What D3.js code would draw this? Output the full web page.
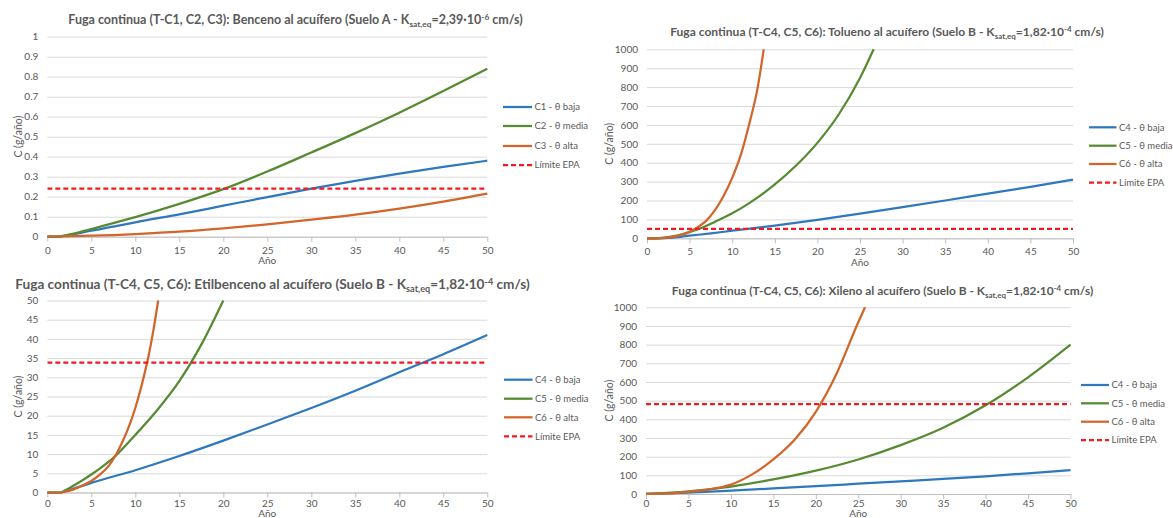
<!doctype html>
<html>
<head>
<meta charset="utf-8">
<style>
    body { margin: 0; background: #fff; }
    svg text { font-family: Lato, "Open Sans", sans-serif; fill: #595959; }
    .grid line { stroke: #d9d9d9; stroke-width: 1; }
    .xaxis path, .xaxis line { stroke: #bfbfbf; stroke-width: 1; }
    .serie { fill: none; stroke-width: 2.25; stroke-linejoin: round; }
    .epa { fill: none; stroke: #ee1c25; stroke-width: 2.25; stroke-dasharray: 5,3; }
</style>
<script src="https://d3js.org/d3.v7.min.js"></script>
</head>
<body>
<svg width="1173" height="518"></svg>
<script>
// ---- datos ----
var xTicks = [0, 5, 10, 15, 20, 25, 30, 35, 40, 45, 50];
var benTicks = [0, 0.1, 0.2, 0.3, 0.4, 0.5, 0.6, 0.7, 0.8, 0.9, 1];
var milTicks = [0, 100, 200, 300, 400, 500, 600, 700, 800, 900, 1000];
var cincuentaTicks = [0, 5, 10, 15, 20, 25, 30, 35, 40, 45, 50];

// Benceno (Suelo A)
var benYears = [0, 1, 2, 3, 5, 7.5, 10, 15, 20, 25, 30, 35, 40, 45, 50];
var benC1 = [0, 0, 0.005, 0.012, 0.03, 0.05, 0.072, 0.112, 0.155, 0.198, 0.24, 0.279, 0.315, 0.349, 0.38];
var benC2 = [0, 0, 0.006, 0.015, 0.038, 0.068, 0.098, 0.164, 0.238, 0.326, 0.421, 0.518, 0.62, 0.728, 0.84];
var benC3 = [0, 0.001, 0.002, 0.003, 0.005, 0.008, 0.013, 0.025, 0.042, 0.062, 0.085, 0.11, 0.14, 0.175, 0.215];
var benEpa = 0.24;

// Tolueno (Suelo B)
var tolYearsC4 = [0, 1, 2, 3, 5, 7.5, 10, 15, 20, 25, 30, 35, 40, 45, 50];
var tolC4 = [0, 0, 1, 4, 14, 26, 40, 67, 98, 131, 165, 200, 236, 272, 310];
var tolYearsC5 = [0, 1, 2, 3, 4, 5, 6, 8, 10, 12, 15, 17.5, 20, 22.5, 25, 26.6];
var tolC5 = [0, 0, 3, 10, 20, 33, 48, 88, 132, 186, 285, 385, 505, 655, 848, 1000];
var tolYearsC6 = [0, 1, 2, 3, 4, 5, 6, 7, 8, 9, 10, 11, 12, 13, 13.7];
var tolC6 = [0, 0, 2, 7, 18, 35, 60, 95, 150, 225, 320, 440, 605, 800, 1000];
var tolEpa = 50;

// Etilbenceno (Suelo B)
var etiYearsC4 = [0, 1, 1.5, 2, 3, 5, 10, 15, 20, 25, 30, 35, 40, 45, 50];
var etiC4 = [0, 0, 0, 0.3, 1, 2.5, 5.8, 9.5, 13.5, 17.7, 22, 26.5, 31.3, 36, 41];
var etiYearsC5 = [0, 1, 1.5, 2, 3, 4, 5, 6, 7.5, 10, 12.5, 15, 17.5, 20];
var etiC5 = [0, 0, 0, 0.5, 1.8, 3.2, 4.7, 6.3, 9, 15, 21.5, 29, 38.5, 50];
var etiYearsC6 = [0, 1, 1.5, 2, 3, 4, 5, 6, 7, 7.5, 8, 8.5, 9, 9.5, 10, 10.5, 11, 11.5, 12, 12.6];
var etiC6 = [0, 0, 0, 0.2, 0.8, 1.8, 3, 4.7, 7, 8.7, 10.7, 13, 15.6, 18.6, 22, 26, 30.5, 35.5, 41.5, 50];
var etiEpa = 33.8;

// Xileno (Suelo B)
var xilYearsC4 = [0, 5, 10, 15, 20, 25, 30, 35, 40, 45, 50];
var xilC4 = [0, 7, 18, 30, 42, 55, 68, 81, 95, 111, 128];
var xilYearsC5 = [0, 5, 10, 15, 20, 25, 30, 35, 40, 45, 50];
var xilC5 = [0, 14, 40, 78, 125, 185, 262, 355, 475, 625, 800];
var xilYearsC6 = [0, 2.5, 5, 7.5, 10, 12.5, 15, 17.5, 20, 22.5, 25, 25.8];
var xilC6 = [0, 3, 12, 25, 50, 105, 185, 290, 440, 650, 920, 1000];
var xilEpa = 482;

var leyenda1 = ["C1 - θ baja", "C2 - θ media", "C3 - θ alta", "Límite EPA"];
var leyenda2 = ["C4 - θ baja", "C5 - θ media", "C6 - θ alta", "Límite EPA"];

var titulo1 = ["Fuga continua (T-C1, C2, C3): Benceno al acuífero (Suelo A - K", "sat,eq", "=2,39·10", "-6", " cm/s)"];
var titulo2 = ["Fuga continua (T-C4, C5, C6): Tolueno al acuífero (Suelo B - K", "sat,eq", "=1,82·10", "-4", " cm/s)"];
var titulo3 = ["Fuga continua (T-C4, C5, C6): Etilbenceno al acuífero (Suelo B - K", "sat,eq", "=1,82·10", "-4", " cm/s)"];
var titulo4 = ["Fuga continua (T-C4, C5, C6): Xileno al acuífero (Suelo B - K", "sat,eq", "=1,82·10", "-4", " cm/s)"];

var colores = ["#2f78bd", "#568a33", "#d2652a"];

var svg = d3.select("svg");

function zip(xs, ys) {
    return xs.map(function(d, i) { return [d, ys[i]]; });
}

function drawPanel(cfg, yMax, yTicks, fmt, series, epa, leyenda, titulo) {
    var x = d3.scaleLinear().domain([0, 50]).range([cfg.left, cfg.right]);
    var y = d3.scaleLinear().domain([0, yMax]).range([cfg.bottom, cfg.top]);
    var g = svg.append("g");

    // lineas de division + etiquetas eje y
    var gy = g.append("g")
        .attr("class", "grid")
        .attr("transform", "translate(" + cfg.left + ",0)")
        .call(d3.axisLeft(y).tickValues(yTicks).tickFormat(fmt)
            .tickSize(-(cfg.right - cfg.left)).tickPadding(9));
    gy.select(".domain").remove();
    gy.selectAll("text").attr("font-size", "10px").style("fill", "#595959");

    // eje x
    var gx = g.append("g")
        .attr("class", "xaxis")
        .attr("transform", "translate(0," + cfg.bottom + ")")
        .call(d3.axisBottom(x).tickValues(xTicks).tickSize(5).tickSizeOuter(0).tickPadding(cfg.xPad));
    gx.selectAll("text").attr("font-size", "10px").style("fill", "#595959");

    var clipId = "clip" + cfg.id;
    g.append("clipPath").attr("id", clipId)
        .append("rect")
        .attr("x", cfg.left).attr("y", cfg.top - 2)
        .attr("width", cfg.right - cfg.left + 2).attr("height", cfg.bottom - cfg.top + 4);

    var line = d3.line()
        .x(function(d) { return x(d[0]); })
        .y(function(d) { return y(d[1]); })
        .curve(d3.curveMonotoneX);

    var plot = g.append("g").attr("clip-path", "url(#" + clipId + ")");
    series.forEach(function(s, i) {
        plot.append("path")
            .attr("class", "serie")
            .attr("stroke", colores[i])
            .attr("d", line(s));
    });
    plot.append("path")
        .attr("class", "epa")
        .attr("d", line([[0, epa], [50, epa]]));

    // titulo
    var t = g.append("text")
        .attr("x", cfg.titleX)
        .attr("y", cfg.titleY)
        .attr("dy", "0.35em")
        .attr("text-anchor", "middle")
        .attr("font-weight", "bold")
        .attr("font-size", "12px");
    t.append("tspan").text(titulo[0]);
    t.append("tspan").attr("font-size", "8px").attr("dy", 3).text(titulo[1]);
    t.append("tspan").attr("dy", -3).text(titulo[2]);
    t.append("tspan").attr("font-size", "8px").attr("dy", -4).text(titulo[3]);
    t.append("tspan").attr("dy", 4).text(titulo[4]);
    var w = t.node().getBBox().width;
    var k = cfg.titleW / w;
    t.attr("font-size", (12 * k) + "px");
    t.selectAll("tspan").each(function(d, i) {
        if (i == 1 || i == 3) d3.select(this).attr("font-size", (8 * k) + "px");
    });

    // titulos de ejes
    g.append("text")
        .attr("transform", "translate(" + cfg.yTitleX + "," + ((cfg.top + cfg.bottom) / 2) + ") rotate(-90)")
        .attr("text-anchor", "middle")
        .attr("dy", "0.35em")
        .attr("font-size", "10.5px")
        .text("C (g/año)");
    g.append("text")
        .attr("x", (cfg.left + cfg.right) / 2)
        .attr("y", cfg.xTitleY)
        .attr("text-anchor", "middle")
        .attr("dy", "0.35em")
        .attr("font-size", "10px")
        .text("Año");

    // leyenda
    leyenda.forEach(function(lab, i) {
        var ly = cfg.legY[i];
        g.append("line")
            .attr("x1", cfg.legX1).attr("x2", cfg.legX2)
            .attr("y1", ly).attr("y2", ly)
            .attr("class", i < 3 ? "serie" : "epa")
            .attr("stroke", i < 3 ? colores[i] : null)
            .attr("stroke-width", 2.5);
        g.append("text")
            .attr("x", cfg.legX2 + 2.5)
            .attr("y", ly)
            .attr("dy", "0.35em")
            .attr("font-size", "9.5px")
            .text(lab);
    });
}

var fmtDec = function(d) { return d == 0 ? "0" : d == 1 ? "1" : d3.format(".1f")(d); };
var fmtInt = d3.format("d");

drawPanel({ id: 1, left: 47.3, right: 487.3, top: 36.7, bottom: 236.7, xPad: 5,
            titleX: 295.5, titleY: 20, titleW: 455, yTitleX: 18, xTitleY: 260,
            legX1: 503, legX2: 532, legY: [107, 126, 146, 165] },
    1, benTicks, fmtDec,
    [zip(benYears, benC1), zip(benYears, benC2), zip(benYears, benC3)],
    benEpa, leyenda1, titulo1);

drawPanel({ id: 2, left: 647, right: 1073, top: 49.3, bottom: 238.3, xPad: 5,
            titleX: 887, titleY: 32, titleW: 434, yTitleX: 609, xTitleY: 262,
            legX1: 1089, legX2: 1116.5, legY: [127.3, 145.7, 164, 182.7] },
    1000, milTicks, fmtInt,
    [zip(tolYearsC4, tolC4), zip(tolYearsC5, tolC5), zip(tolYearsC6, tolC6)],
    tolEpa, leyenda2, titulo2);

drawPanel({ id: 3, left: 47.3, right: 487.3, top: 300.5, bottom: 492.5, xPad: 2,
            titleX: 272.5, titleY: 284, titleW: 515, yTitleX: 18, xTitleY: 513,
            legX1: 504, legX2: 532.5, legY: [379.7, 398.7, 417.3, 436.3] },
    50, cincuentaTicks, fmtInt,
    [zip(etiYearsC4, etiC4), zip(etiYearsC5, etiC5), zip(etiYearsC6, etiC6)],
    etiEpa, leyenda2, titulo3);

drawPanel({ id: 4, left: 646, right: 1070.5, top: 307.3, bottom: 494, xPad: 1,
            titleX: 882.5, titleY: 291.3, titleW: 422, yTitleX: 609, xTitleY: 513.5,
            legX1: 1081, legX2: 1109, legY: [385, 403.3, 421.7, 440] },
    1000, milTicks, fmtInt,
    [zip(xilYearsC4, xilC4), zip(xilYearsC5, xilC5), zip(xilYearsC6, xilC6)],
    xilEpa, leyenda2, titulo4);
</script>
</body>
</html>
